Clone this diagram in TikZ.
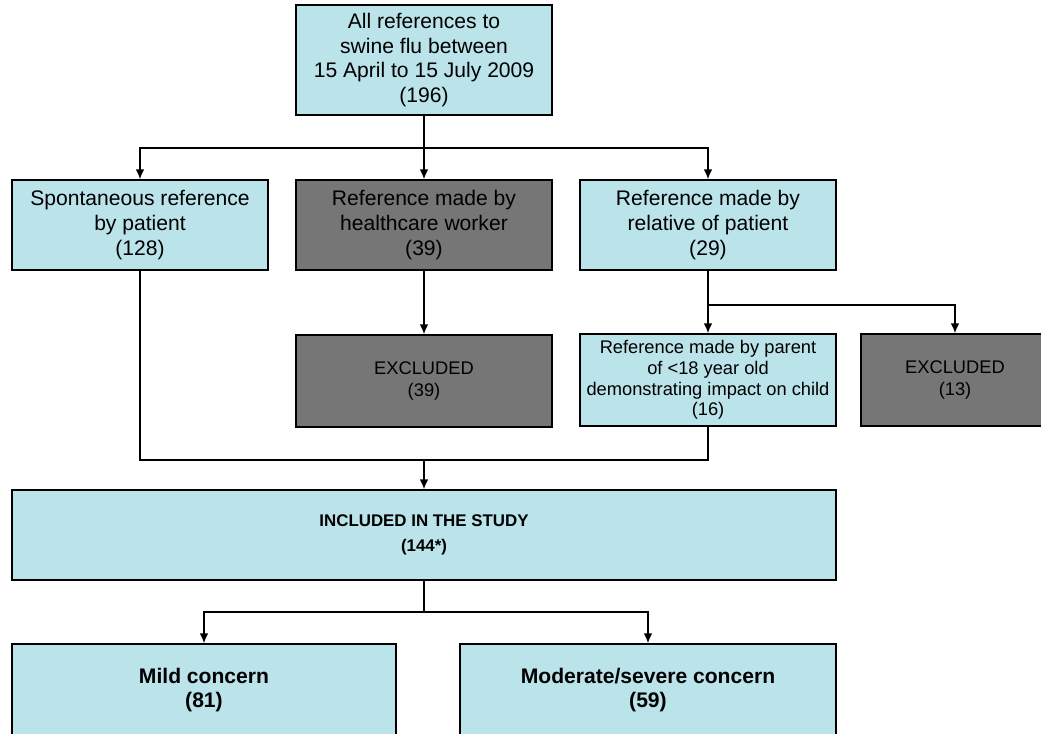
\documentclass[tikz,border=0pt]{standalone}
\usepackage{fontspec}
\setmainfont{Liberation Sans}
\usetikzlibrary{arrows.meta}
\definecolor{flublue}{RGB}{187,227,234}
\definecolor{flugray}{RGB}{118,118,118}
\newcommand{\boxw}{6.4cm}

\begin{document}
\begin{tikzpicture}[x=0.025cm,y=-0.025cm,line width=1pt,>={Latex[length=7pt,width=6pt]},
    bluebox/.style={draw,fill=flublue,align=center,inner sep=0pt,minimum width=\boxw,minimum height=2.25cm,font=\fontsize{15}{18}\selectfont},
    graybox/.style={bluebox,fill=flugray}]
  \useasboundingbox (0,0) rectangle (1041,734);
  \clip (0,0) rectangle (1041,734);
        \node[bluebox,minimum height=2.75cm,font=\fontsize{15}{17.4}\selectfont] (all) at (424,60) {All references to\\ swine flu between\\ 15 April to 15 July 2009\\ (196)};
        \node[bluebox] (spont) at (140,225) {Spontaneous reference\\ by patient\\ (128)};
        \node[graybox] (health) at (424,225) {Reference made by\\ healthcare worker\\ (39)};
        \node[bluebox] (relat) at (708,225) {Reference made by\\ relative of patient\\ (29)};
        \coordinate (split1) at (424,148);
        \draw (all) -- (split1);
        \draw[->] (split1) -| (spont);
        \draw[->] (split1) -- (health);
        \draw[->] (split1) -| (relat);
        \node[graybox,minimum height=2.3cm,font=\fontsize{13}{15.6}\selectfont] (excl1) at (424,381) {EXCLUDED\\ (39)};
        \draw[->] (health) -- (excl1);
        \node[bluebox,minimum height=2.3cm,font=\fontsize{13}{14.7}\selectfont] (parent) at (708,380) {Reference made by parent\\ of <18 year old\\ demonstrating impact on child\\ (16)};
        \node[graybox,minimum width=4.7cm,minimum height=2.3cm,font=\fontsize{13}{15.6}\selectfont] (excl2) at (955,380) {EXCLUDED\\ (13)};
        \coordinate (split2) at (708,305);
        \draw (relat) -- (split2);
        \draw[->] (split2) -- (parent);
        \draw[->] (split2) -| (excl2);
        \node[bluebox,minimum width=20.6cm,font=\bfseries\fontsize{12}{17.7}\selectfont] (incl) at (424,535) {INCLUDED IN THE STUDY\\ (144*)};
        \coordinate (merge) at (424,460);
        \draw (spont) |- (merge);
        \draw (parent) |- (merge);
        \draw[->] (merge) -- (incl);
        \node[bluebox,minimum width=9.6cm,minimum height=2.3cm,font=\bfseries\fontsize{15}{17.7}\selectfont] (mild) at (204,690) {Mild concern\\ (81)};
        \node[bluebox,minimum width=9.4cm,minimum height=2.3cm,font=\bfseries\fontsize{15}{17.7}\selectfont] (moder) at (648,690) {Moderate/severe concern\\ (59)};
        \coordinate (split3) at (424,612);
        \draw (incl) -- (split3);
        \draw[->] (split3) -| (mild);
        \draw[->] (split3) -| (moder);
\end{tikzpicture}
\end{document}
